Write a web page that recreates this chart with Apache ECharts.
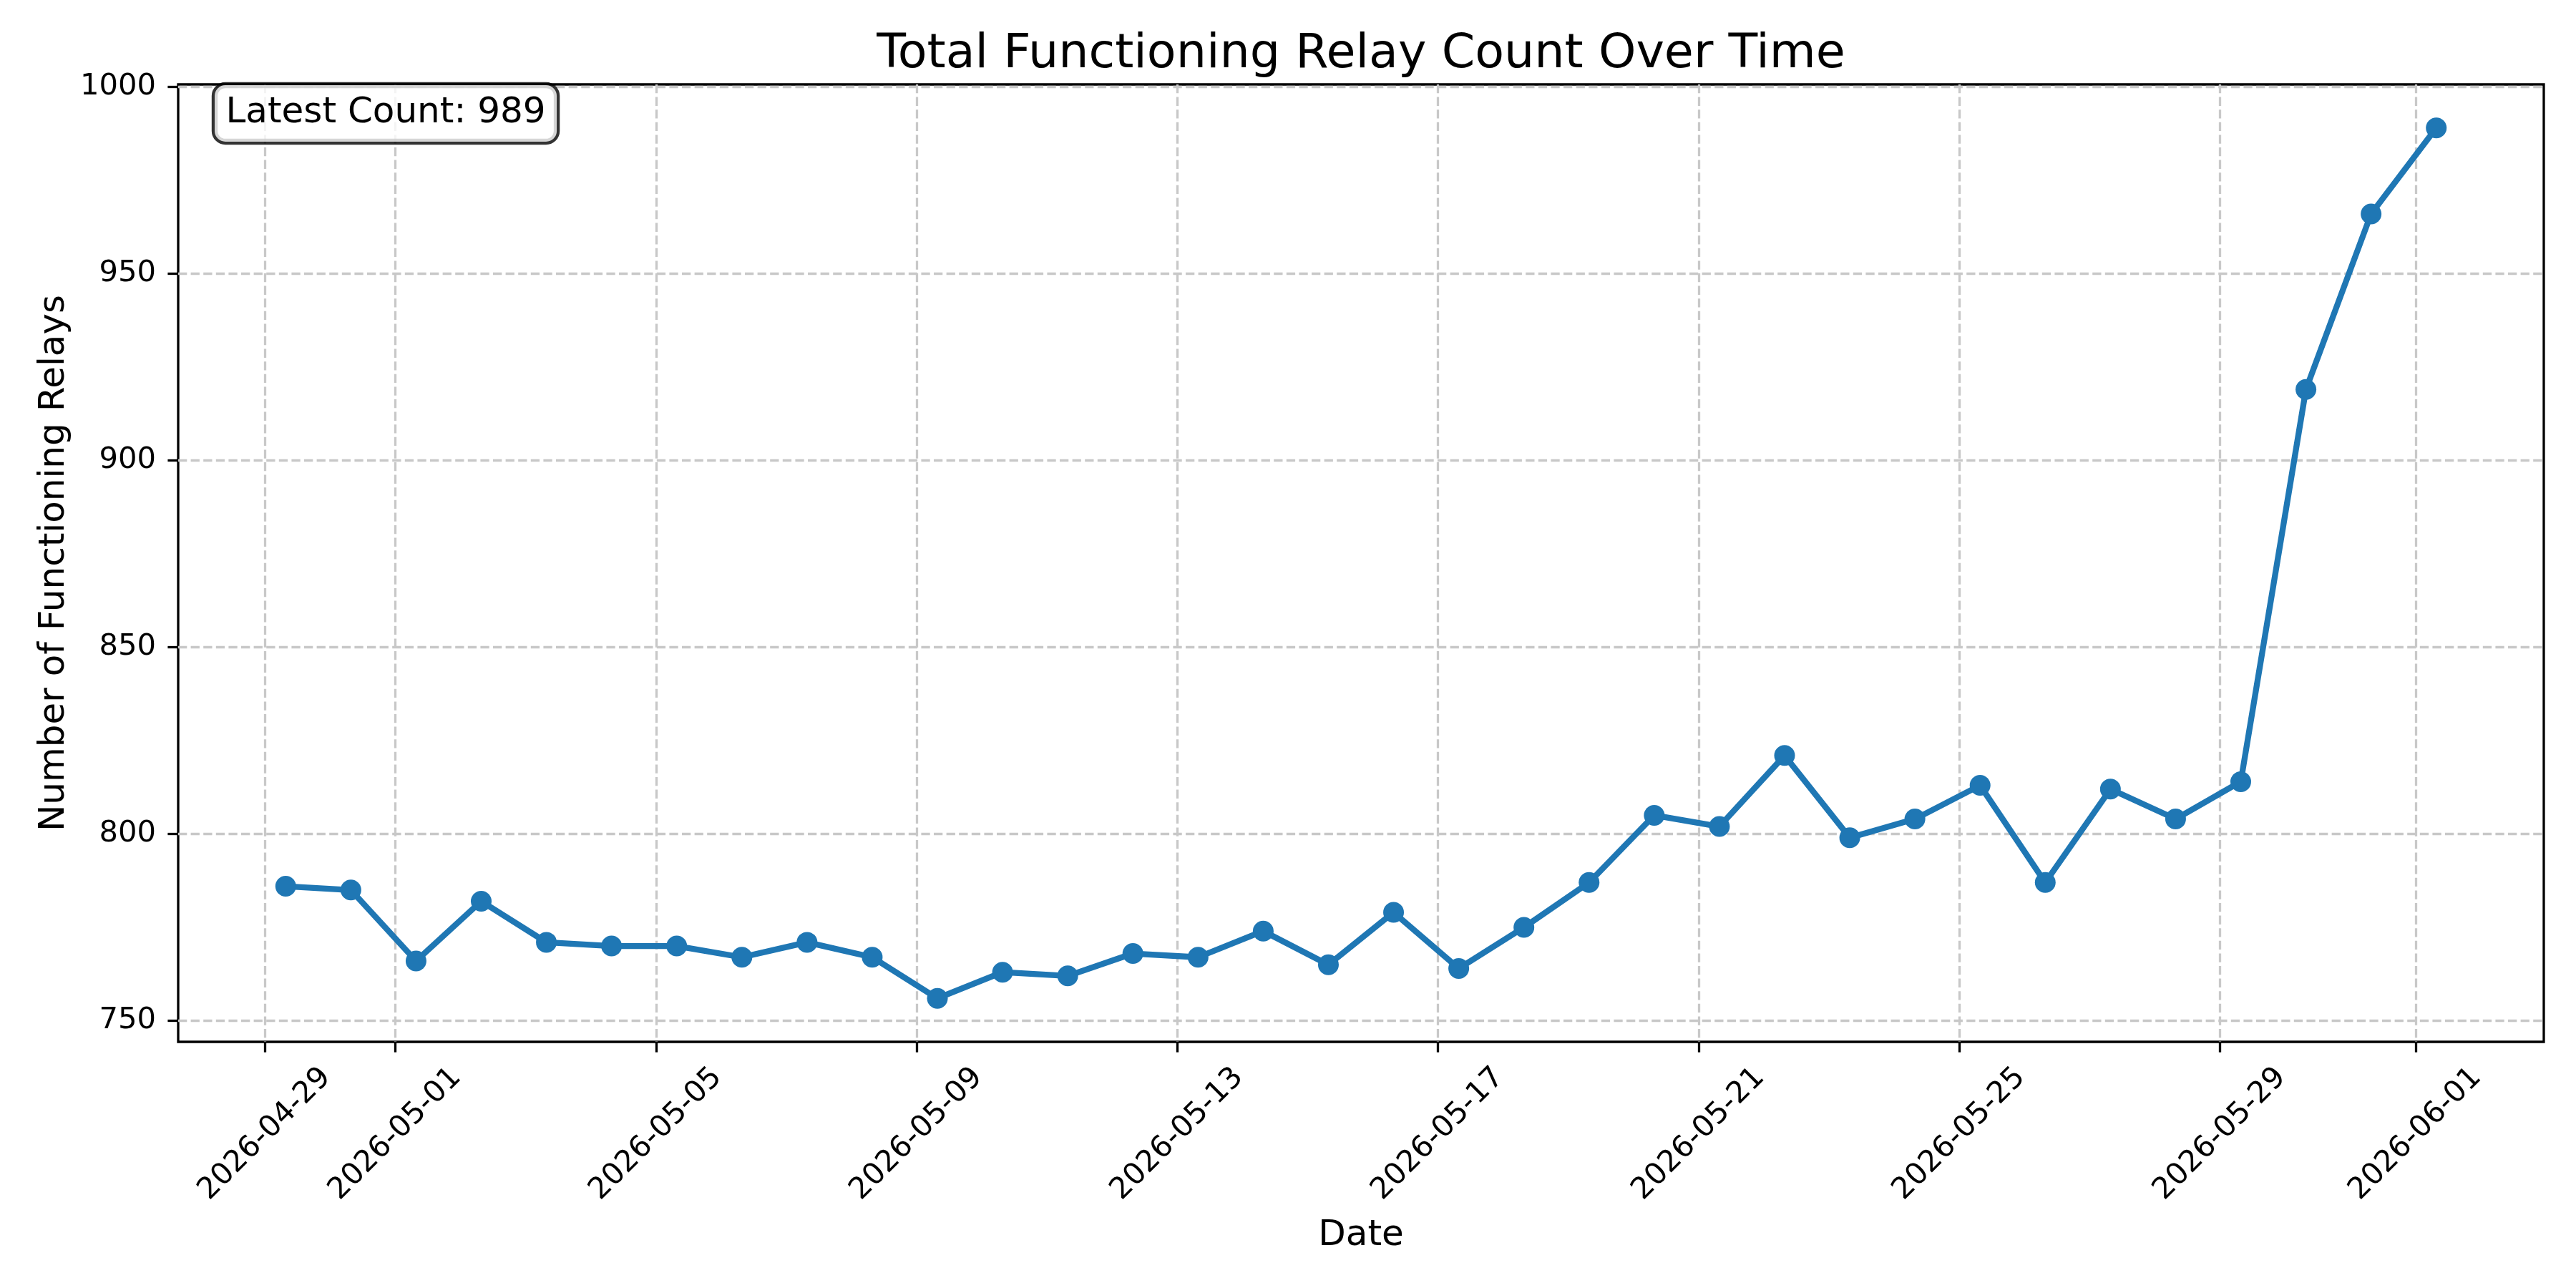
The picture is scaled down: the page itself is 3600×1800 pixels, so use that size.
<!DOCTYPE html>
<html>
<head>
<meta charset="utf-8">
<title>Total Functioning Relay Count Over Time</title>
<script src="https://cdn.jsdelivr.net/npm/echarts@6.0.0/dist/echarts.min.js"></script>
<style>
  html, body { margin: 0; padding: 0; background: #fff; }
  #chart { width: 3600px; height: 1800px; }
</style>
</head>
<body>
<div id="chart"></div>
<script>
// daily snapshots (all taken at the same time of day)
var days = [
  '2026-04-29', '2026-04-30', '2026-05-01', '2026-05-02', '2026-05-03',
  '2026-05-04', '2026-05-05', '2026-05-06', '2026-05-07', '2026-05-08',
  '2026-05-09', '2026-05-10', '2026-05-11', '2026-05-12', '2026-05-13',
  '2026-05-14', '2026-05-15', '2026-05-16', '2026-05-17', '2026-05-18',
  '2026-05-19', '2026-05-20', '2026-05-21', '2026-05-22', '2026-05-23',
  '2026-05-24', '2026-05-25', '2026-05-26', '2026-05-27', '2026-05-28',
  '2026-05-29', '2026-05-30', '2026-05-31', '2026-06-01'
];
var sampleTime = '07:38';
var relayCounts = [
  786, 785, 766, 782, 771, 770, 770, 767, 771, 767,
  756, 763, 762, 768, 767, 774, 765, 779, 764, 775,
  787, 805, 802, 821, 799, 804, 813, 787, 812, 804,
  814, 919, 966, 989
];
var tickDates = [
  '2026-04-29', '2026-05-01', '2026-05-05', '2026-05-09', '2026-05-13',
  '2026-05-17', '2026-05-21', '2026-05-25', '2026-05-29', '2026-06-01'
];
var yTicks = [750, 800, 850, 900, 950, 1000];

var FONT = 'DejaVu Sans';
var BLUE = '#1f77b4';

function ts(s) { return +echarts.time.parse(s); }

// x is milliseconds on a plain value axis, labels formatted as dates
var points = days.map(function (d, i) { return [ts(d + ' ' + sampleTime), relayCounts[i]]; });
var xTickValues = tickDates.map(function (d) { return ts(d + ' 00:00'); });

// matplotlib-like 5% margins
var x0 = points[0][0], x1 = points[points.length - 1][0];
var yLo = Math.min.apply(null, relayCounts), yHi = Math.max.apply(null, relayCounts);
var xPad = (x1 - x0) * 0.05, yPad = (yHi - yLo) * 0.05;

var gridLine = { color: '#c8c8c8', width: 3.3, type: [12.3, 5.3] };
function tickStyle(vals) {
  return { show: true, inside: false, length: 14.6, customValues: vals,
           lineStyle: { color: '#000', width: 3.3 } };
}

var chart = echarts.init(document.getElementById('chart'));
chart.setOption({
  animation: false,
  backgroundColor: '#fff',
  grid: {
    left: 249, top: 118, right: 45, bottom: 344,
    show: true, borderColor: '#000', borderWidth: 3.3,
    outerBoundsMode: 'none'
  },
  graphic: [
    {
      type: 'text', x: 1902, y: 77, z: 10,
      style: {
        text: 'Total Functioning Relay Count Over Time',
        font: '66.7px "' + FONT + '"', fill: '#000',
        align: 'center', verticalAlign: 'middle'
      }
    },
    {
      type: 'text', x: 300, y: 119, z: 10,
      style: {
        text: 'Latest Count: ' + relayCounts[relayCounts.length - 1],
        font: '50px "' + FONT + '"', fill: '#000',
        align: 'left', verticalAlign: 'top',
        lineHeight: 50,
        padding: [14.5, 15.5, 14.5, 15.5],
        backgroundColor: 'rgba(255,255,255,0.8)',
        borderColor: 'rgba(0,0,0,0.8)', borderWidth: 4.2, borderRadius: 15
      }
    }
  ],
  xAxis: {
    type: 'value',
    min: x0 - xPad,
    max: x1 + xPad,
    name: 'Date',
    nameLocation: 'middle',
    nameGap: 246,
    nameTextStyle: { fontFamily: FONT, fontSize: 50, color: '#000' },
    axisLine: { show: false },
    axisTick: tickStyle(xTickValues),
    axisLabel: {
      customValues: xTickValues,
      rotate: 45,
      align: 'center',
      verticalAlign: 'middle',
      margin: 129,
      showMinLabel: true, showMaxLabel: true,
      fontFamily: FONT, fontSize: 41.7, color: '#000',
      formatter: function (v) { return echarts.time.format(v, '{yyyy}-{MM}-{dd}', false); }
    },
    splitLine: { show: true, lineStyle: gridLine }
  },
  yAxis: {
    type: 'value',
    min: yLo - yPad,
    max: yHi + yPad,
    name: 'Number of Functioning Relays',
    nameLocation: 'middle',
    nameGap: 137,
    nameTextStyle: { fontFamily: FONT, fontSize: 50, color: '#000' },
    axisLine: { show: false },
    axisTick: tickStyle(yTicks),
    axisLabel: {
      customValues: yTicks,
      margin: 31,
      fontFamily: FONT, fontSize: 41.7, color: '#000',
      formatter: function (v) { return String(v); }
    },
    splitLine: { show: true, lineStyle: gridLine }
  },
  series: [{
    type: 'line',
    data: points,
    symbol: 'circle',
    symbolSize: 29,
    showSymbol: true,
    lineStyle: { color: BLUE, width: 8.3 },
    itemStyle: { color: BLUE },
    emphasis: { disabled: true }
  }]
});
</script>
</body>
</html>
